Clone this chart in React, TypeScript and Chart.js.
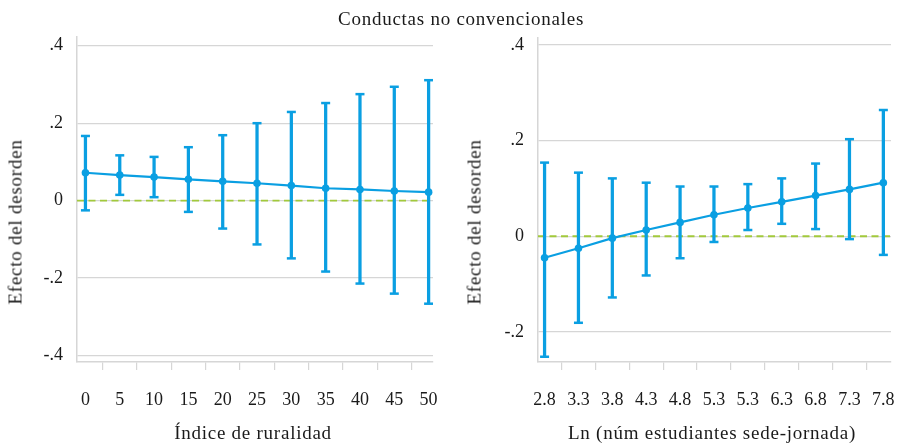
import React, { useEffect, useRef } from "react";
import { Chart, registerables } from "chart.js";

Chart.register(...registerables);

// ---- Data ----
const titleText = "Conductas no convencionales";
const yTitleText = "Efecto del desorden";

const leftXTitle = "Índice de ruralidad";
const leftX = [0, 5, 10, 15, 20, 25, 30, 35, 40, 45, 50];
const leftXLabels = ["0", "5", "10", "15", "20", "25", "30", "35", "40", "45", "50"];
const leftEst = [0.072, 0.066, 0.061, 0.055, 0.05, 0.045, 0.039, 0.032, 0.029, 0.025, 0.022];
const leftHi = [0.167, 0.117, 0.113, 0.138, 0.169, 0.2, 0.229, 0.252, 0.275, 0.294, 0.311];
const leftLo = [-0.025, 0.015, 0.009, -0.029, -0.072, -0.113, -0.149, -0.183, -0.214, -0.24, -0.266];
const leftYTicks = [0.4, 0.2, 0, -0.2, -0.4];
const leftYLabels = [".4", ".2", "0", "-.2", "-.4"];

const rightXTitle = "Ln (núm estudiantes sede-jornada)";
const rightX = [2.8, 3.3, 3.8, 4.3, 4.8, 5.3, 5.8, 6.3, 6.8, 7.3, 7.8];
const rightXLabels = ["2.8", "3.3", "3.8", "4.3", "4.8", "5.3", "5.3", "6.3", "6.8", "7.3", "7.8"];
const rightEst = [-0.045, -0.025, -0.004, 0.013, 0.029, 0.045, 0.059, 0.072, 0.085, 0.098, 0.112];
const rightHi = [0.154, 0.133, 0.121, 0.112, 0.104, 0.104, 0.109, 0.121, 0.152, 0.203, 0.264];
const rightLo = [-0.252, -0.181, -0.128, -0.082, -0.046, -0.012, 0.013, 0.026, 0.015, -0.006, -0.039];
const rightYTicks = [0.4, 0.2, 0, -0.2];
const rightYLabels = [".4", ".2", "0", "-.2"];

const refValue = 0;

// ---- Styles ----
const BLUE = "#0a9fe2";
const GREEN = "#a2c93c";
const GRID = "#d6d6d6";
const FONT = "'Liberation Serif', 'Times New Roman', serif";

type PanelProps = {
  xs: number[];
  xLabels: string[];
  est: number[];
  lo: number[];
  hi: number[];
  yTicks: number[];
  yLabels: string[];
  xMin: number;
  xMax: number;
  yMin: number;
  yMax: number;
  yAxisWidth: number;
  padTop: number;
  padRight: number;
  left: number;
};

function Panel(p: PanelProps) {
  const ref = useRef<HTMLCanvasElement | null>(null);
  useEffect(() => {
    if (!ref.current) return;
    const chart = new Chart(ref.current, {
      type: "line",
      data: {
        datasets: [
          {
            type: "line",
            data: p.xs.map((x, i) => ({ x, y: p.est[i] })),
            borderColor: BLUE,
            backgroundColor: BLUE,
            borderWidth: 2.2,
            pointRadius: 3.8,
            pointBorderWidth: 0,
            pointBackgroundColor: BLUE,
            tension: 0,
          },
          {
            type: "line",
            data: p.xs.map((x, i) => ({ x, y: p.hi[i] })),
            showLine: false,
            pointStyle: "line",
            pointRadius: 4.5,
            pointBorderWidth: 2.5,
            pointBorderColor: BLUE,
            borderColor: BLUE,
          },
          {
            type: "line",
            data: p.xs.map((x, i) => ({ x, y: p.lo[i] })),
            showLine: false,
            pointStyle: "line",
            pointRadius: 4.5,
            pointBorderWidth: 2.5,
            pointBorderColor: BLUE,
            borderColor: BLUE,
          },
          {
            type: "bar",
            data: p.xs.map((x, i) => ({ x, y: [p.lo[i], p.hi[i]] })) as any,
            backgroundColor: BLUE,
            borderWidth: 0,
            barThickness: 2.6,
          },
          {
            type: "line",
            data: [
              { x: p.xMin, y: refValue },
              { x: p.xMax, y: refValue },
            ],
            borderColor: GREEN,
            borderWidth: 1.8,
            borderDash: [7, 4.5],
            pointRadius: 0,
          },
        ],
      } as any,
      options: {
        animation: false,
        responsive: false,
        events: [],
        layout: { padding: { top: p.padTop, right: p.padRight, left: 0, bottom: 0 } },
        plugins: { legend: { display: false }, tooltip: { enabled: false }, title: { display: false } },
        scales: {
          x: {
            type: "linear",
            min: p.xMin,
            max: p.xMax,
            offset: false,
            afterBuildTicks: (s: any) => {
              s.ticks = p.xs.map((v) => ({ value: v }));
            },
            afterFit: (s: any) => {
              s.height = 83;
              s.paddingLeft = 0;
              s.paddingRight = 0;
            },
            ticks: {
              autoSkip: false,
              maxRotation: 0,
              padding: 19,
              color: "#1a1a1a",
              font: { family: FONT, size: 18 },
              callback: (_v: any, i: number) => p.xLabels[i],
            },
            grid: { drawOnChartArea: false, drawTicks: true, tickLength: 8, color: GRID, lineWidth: 1.2 },
            border: { display: true, color: GRID, width: 1.5 },
          },
          y: {
            type: "linear",
            min: p.yMin,
            max: p.yMax,
            afterBuildTicks: (s: any) => {
              s.ticks = p.yTicks.map((v) => ({ value: v }));
            },
            afterFit: (s: any) => {
              s.width = p.yAxisWidth;
              s.paddingTop = 0;
              s.paddingBottom = 0;
            },
            ticks: {
              autoSkip: false,
              padding: 14,
              color: "#1a1a1a",
              font: { family: FONT, size: 18 },
              callback: (_v: any, i: number) => p.yLabels[i],
            },
            grid: { drawTicks: false, color: GRID, lineWidth: 1.3 },
            border: { display: true, color: GRID, width: 1.5 },
          },
        },
      } as any,
    });
    return () => chart.destroy();
  }, []);
  return (
    <canvas
      ref={ref}
      width={449}
      height={445}
      style={{ position: "absolute", left: p.left, top: 0, width: 449, height: 445 }}
    />
  );
}

const textStyle: React.CSSProperties = {
  position: "absolute",
  fontFamily: FONT,
  fontSize: 19,
  lineHeight: "19px",
  letterSpacing: "0.75px",
  color: "#1a1a1a",
  whiteSpace: "nowrap",
};

function CenteredText(props: { text: string; cx: number; cy: number; rotate?: boolean }) {
  return (
    <div
      style={{
        ...textStyle,
        left: props.cx,
        top: props.cy,
        transform: `translate(-50%, -50%)${props.rotate ? " rotate(-90deg)" : ""}`,
      }}
    >
      {props.text}
    </div>
  );
}

export default function App() {
  return (
    <div
      style={{
        position: "fixed",
        left: 0,
        top: 0,
        width: 898,
        height: 445,
        background: "#fff",
        overflow: "hidden",
      }}
    >
      <Panel
        xs={leftX}
        xLabels={leftXLabels}
        est={leftEst}
        lo={leftLo}
        hi={leftHi}
        yTicks={leftYTicks}
        yLabels={leftYLabels}
        xMin={-1.23}
        xMax={50.64}
        yMin={-0.4165}
        yMax={0.4225}
        yAxisWidth={77}
        padTop={37}
        padRight={16}
        left={0}
      />
      <Panel
        xs={rightX}
        xLabels={rightXLabels}
        est={rightEst}
        lo={rightLo}
        hi={rightHi}
        yTicks={rightYTicks}
        yLabels={rightYLabels}
        xMin={2.703}
        xMax={7.913}
        yMin={-0.263}
        yMax={0.4146}
        yAxisWidth={89}
        padTop={38}
        padRight={5}
        left={449}
      />
      <CenteredText text={titleText} cx={461} cy={18} />
      <CenteredText text={yTitleText} cx={15} cy={222} rotate />
      <CenteredText text={yTitleText} cx={474} cy={222} rotate />
      <CenteredText text={leftXTitle} cx={253} cy={432} />
      <CenteredText text={rightXTitle} cx={712} cy={432} />
    </div>
  );
}
